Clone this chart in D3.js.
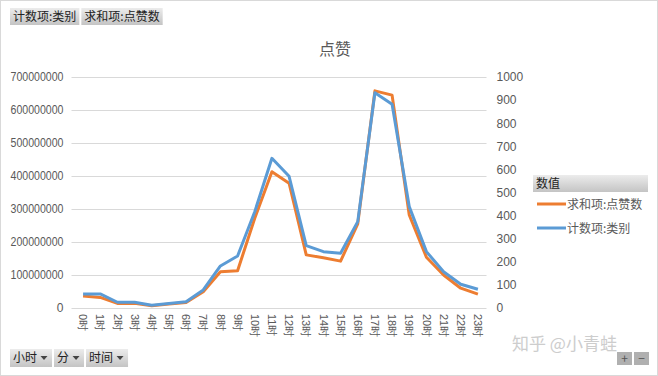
<!DOCTYPE html>
<html>
<head>
<meta charset="utf-8">
<script src="https://cdn.jsdelivr.net/npm/d3@7"></script>
<style>
  body { margin: 0; background: #fff; }
  svg { display: block; font-family: "Noto Sans CJK SC", "Noto Sans", sans-serif; }
</style>
</head>
<body>
<svg id="chart" width="658" height="376"></svg>
<script>
const hours = ["0时","1时","2时","3时","4时","5时","6时","7时","8时","9时","10时","11时",
  "12时","13时","14时","15时","16时","17时","18时","19时","20时","21时","22时","23时"];
// 求和项:点赞数 (left axis)
const likes = [36e6, 32e6, 14e6, 14e6, 7e6, 12e6, 17e6, 49e6, 110e6, 113e6, 272e6, 413e6,
  378e6, 161e6, 152e6, 142e6, 255e6, 658e6, 645e6, 282e6, 154e6, 100e6, 60e6, 42e6];
// 计数项:类别 (right axis)
const counts = [61, 61, 25, 25, 12, 19, 27, 78, 182, 225, 417, 648,
  570, 270, 244, 237, 374, 932, 882, 439, 244, 157, 103, 81];
const leftTicks = [0, 1e8, 2e8, 3e8, 4e8, 5e8, 6e8, 7e8];
const rightTicks = [0, 100, 200, 300, 400, 500, 600, 700, 800, 900, 1000];
const topButtons = ["计数项:类别", "求和项:点赞数"];
const bottomButtons = ["小时", "分", "时间"];
const legendItems = [{name: "求和项:点赞数", color: "#ED7D31"}, {name: "计数项:类别", color: "#5B9BD5"}];

const svg = d3.select("#chart");
const margin = {left: 74.5, right: 171.5, top: 77, bottom: 68};
const W = 658, H = 376;
const plotW = W - margin.left - margin.right;
const plotH = H - margin.top - margin.bottom;

// grey gradient for field buttons
const defs = svg.append("defs");
const grad = defs.append("linearGradient").attr("id", "btn").attr("x1", 0).attr("y1", 0).attr("x2", 0).attr("y2", 1);
grad.append("stop").attr("offset", "0%").attr("stop-color", "#ececec");
grad.append("stop").attr("offset", "100%").attr("stop-color", "#c4c4c4");

svg.append("rect").attr("x", 0.5).attr("y", 0.5).attr("width", W - 1).attr("height", H - 1)
  .attr("fill", "#fff").attr("stroke", "#d9d9d9");

// top buttons
let bx = 10;
topButtons.forEach(t => {
  let g = svg.append("g");
  let txt = g.append("text").attr("x", bx + 3).attr("y", 21).attr("font-size", 12).attr("fill", "#222").text(t);
  let w = txt.node().getComputedTextLength() + 6;
  g.insert("rect", "text").attr("x", bx).attr("y", 8).attr("width", w).attr("height", 17).attr("fill", "url(#btn)");
  bx += w + 2;
});

// bottom buttons
bx = 10;
bottomButtons.forEach(t => {
  let g = svg.append("g");
  let txt = g.append("text").attr("x", bx + 3).attr("y", 362).attr("font-size", 12).attr("fill", "#222").text(t);
  let w = txt.node().getComputedTextLength() + 18;
  g.insert("rect", "text").attr("x", bx).attr("y", 349).attr("width", w).attr("height", 18).attr("fill", "url(#btn)");
  let ax = bx + w - 8;
  g.append("path").attr("d", `M${ax - 3.5},356 L${ax + 3.5},356 L${ax},360 Z`).attr("fill", "#444");
  bx += w + 2;
});

// title
svg.append("text").attr("x", 335).attr("y", 55).attr("text-anchor", "middle")
  .attr("font-size", 16).attr("fill", "#595959").text("点赞");

const x = d3.scaleBand().domain(hours).range([margin.left, margin.left + plotW]);
const yL = d3.scaleLinear().domain([0, 7e8]).range([margin.top + plotH, margin.top]);
const yR = d3.scaleLinear().domain([0, 1000]).range([margin.top + plotH, margin.top]);

// gridlines
svg.append("g").selectAll("line").data(leftTicks).join("line")
  .attr("x1", margin.left - 3).attr("x2", margin.left + plotW)
  .attr("y1", d => Math.round(yL(d)) + 0.5).attr("y2", d => Math.round(yL(d)) + 0.5)
  .attr("stroke", "#d9d9d9").attr("stroke-width", 1);

// left axis
const axL = svg.append("g").attr("transform", `translate(${margin.left - 8},0)`)
  .call(d3.axisLeft(yL).tickValues(leftTicks).tickFormat(d3.format("d")).tickSize(0));
axL.select(".domain").remove();
axL.selectAll("text").attr("font-size", 12).attr("fill", "#595959").attr("font-family", "Liberation Sans, sans-serif")
  .attr("textLength", d => d === 0 ? null : 53).attr("lengthAdjust", "spacingAndGlyphs");

// right axis
const axR = svg.append("g").attr("transform", `translate(${margin.left + plotW + 7},0)`)
  .call(d3.axisRight(yR).tickValues(rightTicks).tickFormat(d3.format("d")).tickSize(0));
axR.select(".domain").remove();
axR.selectAll("text").attr("font-size", 12).attr("fill", "#595959").attr("font-family", "Liberation Sans, sans-serif");

// x axis labels
const axX = svg.append("g").attr("transform", `translate(0,${margin.top + plotH + 6})`)
  .call(d3.axisBottom(x).tickSize(0));
axX.select(".domain").remove();
axX.selectAll("text").attr("font-size", 11).attr("fill", "#595959")
  .attr("text-anchor", "start").attr("dy", "0.35em").attr("y", 0)
  .attr("transform", "rotate(90)");

// lines
const cx = d => x(d) + x.bandwidth() / 2;
svg.append("path").datum(likes)
  .attr("fill", "none").attr("stroke", "#ED7D31").attr("stroke-width", 3).attr("stroke-linejoin", "round")
  .attr("d", d3.line().x((d, i) => cx(hours[i])).y(d => yL(d)));
svg.append("path").datum(counts)
  .attr("fill", "none").attr("stroke", "#5B9BD5").attr("stroke-width", 3).attr("stroke-linejoin", "round")
  .attr("d", d3.line().x((d, i) => cx(hours[i])).y(d => yR(d)));

// legend
const lg = svg.append("g");
lg.append("rect").attr("x", 533).attr("y", 175).attr("width", 115).attr("height", 17).attr("fill", "url(#btn)");
lg.append("text").attr("x", 536).attr("y", 188).attr("font-size", 12).attr("fill", "#222").text("数值");
legendItems.forEach((d, i) => {
  let y = 204 + i * 24;
  lg.append("line").attr("x1", 537).attr("x2", 566).attr("y1", y).attr("y2", y)
    .attr("stroke", d.color).attr("stroke-width", 3);
  lg.append("text").attr("x", 567).attr("y", y + 4.5).attr("font-size", 12).attr("fill", "#595959").text(d.name);
});

// watermark
svg.append("text").attr("x", 512).attr("y", 350).attr("font-size", 17).attr("fill", "#c8c8c8")
  .attr("opacity", 0.9).text("知乎 @小青蛙");

// +/- buttons
[["+", 617], ["−", 634]].forEach(([s, px]) => {
  svg.append("rect").attr("x", px).attr("y", 352).attr("width", 15).attr("height", 13).attr("fill", "#b0b0b0");
  svg.append("text").attr("x", px + 7.5).attr("y", 363).attr("text-anchor", "middle")
    .attr("font-size", 12).attr("fill", "#555").text(s);
});
</script>
</body>
</html>
